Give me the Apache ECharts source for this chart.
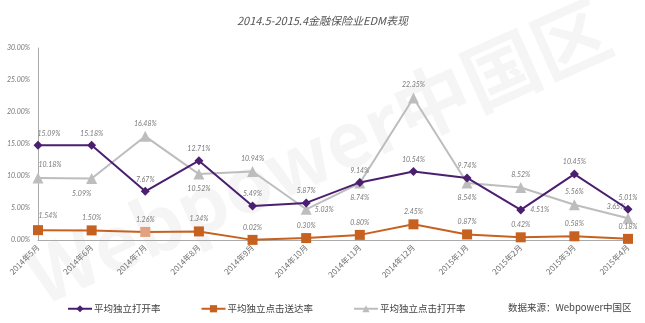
<!DOCTYPE html>
<html>
<head>
<meta charset="utf-8">
<script src="https://cdn.jsdelivr.net/npm/echarts@6/dist/echarts.min.js"></script>
<style>
html,body{margin:0;padding:0;background:#fff;}
#c{width:645px;height:323px;}
</style>
</head>
<body>
<div id="c"></div>
<script>
var categories = ['2014年5月','2014年6月','2014年7月','2014年8月','2014年9月','2014年10月','2014年11月','2014年12月','2015年1月','2015年2月','2015年3月','2015年4月'];
var openRate = [14.8, 14.8, 7.6, 12.4, 5.3, 5.8, 9.0, 10.7, 9.7, 4.7, 10.3, 4.8];
var openRateLabels = ['15.09%','15.18%','7.67%','12.71%','5.49%','5.87%','9.14%','10.54%','9.74%','4.51%','10.45%','5.01%'];
var clickDeliverRate = [1.54, 1.50, 1.26, 1.34, 0.02, 0.30, 0.80, 2.45, 0.87, 0.42, 0.58, 0.18];
var clickDeliverLabels = ['1.54%','1.50%','1.26%','1.34%','0.02%','0.30%','0.80%','2.45%','0.87%','0.42%','0.58%','0.18%'];
var clickOpenRate = [9.7, 9.6, 16.2, 10.3, 10.7, 4.8, 8.9, 22.2, 8.9, 8.2, 5.5, 3.4];
var clickOpenLabels = ['10.18%','5.09%','16.48%','10.52%','10.94%','5.03%','8.74%','22.35%','8.54%','8.52%','5.56%','3.65%'];
var seriesNames = ['平均独立打开率','平均独立点击送达率','平均独立点击打开率'];
var yTicks = [0, 5, 10, 15, 20, 25, 30];

var labelFont = {fontSize: 7, fontStyle: 'italic', color: '#7a7a7a', fontFamily: 'Lato, "Noto Sans", sans-serif'};

function buildData(values, labels, posFn) {
  return values.map(function (v, i) {
    var p = posFn(i);
    return {
      value: v,
      label: Object.assign({show: true, formatter: labels[i], position: p.pos, distance: p.dist || 4, offset: p.off || [0, 0]}, labelFont)
    };
  });
}

var purplePos = function (i) {
  if (i === 0) return {pos: 'top', off: [11, 0]};
  if (i === 9) return {pos: 'right', dist: 5};
  return {pos: 'top'};
};
var orangePos = function (i) {
  if (i === 0) return {pos: 'top', off: [10, -2]};
  return {pos: 'top'};
};
var grayPos = function (i) {
  var m = ['top','bottom','top','bottom','top','right','bottom','top','bottom','top','top','top'];
  if (i === 0) return {pos: 'top', off: [12, 0]};
  if (i === 1) return {pos: 'bottom', off: [-10, 2]};
  if (i === 5) return {pos: 'right', dist: 3};
  if (i === 11) return {pos: 'top', off: [-12, 2]};
  if (m[i] === 'bottom') return {pos: 'bottom', dist: 6};
  return {pos: m[i]};
};

var orangeData = buildData(clickDeliverRate, clickDeliverLabels, orangePos);
orangeData[2].itemStyle = {color: '#e3a27f'};

var chart = echarts.init(document.getElementById('c'));
chart.setOption({
  backgroundColor: '#ffffff',
  animation: false,
  title: {
    text: '2014.5-2015.4金融保险业EDM表现',
    left: 'center',
    top: 10,
    textStyle: {fontSize: 11, fontWeight: 'normal', fontStyle: 'italic', color: '#555', fontFamily: '"Noto Sans CJK SC", sans-serif'}
  },
  graphic: [{
    type: 'text',
    z: -10,
    silent: true,
    x: 318,
    y: 152,
    rotation: 0.42,
    style: {
      text: 'Webpower中国区',
      x: 0, y: 0,
      align: 'center',
      verticalAlign: 'middle',
      font: 'bold 76px "Noto Sans CJK SC", sans-serif',
      fill: 'rgba(0,0,0,0.04)'
    }
  }, {
    type: 'text',
    left: 508,
    top: 303,
    style: {text: '数据来源：Webpower中国区', font: '9.5px "Noto Sans CJK SC", sans-serif', fill: '#444'}
  }],
  legend: {
    left: 62,
    top: 299,
    itemGap: 40,
    itemWidth: 24,
    itemHeight: 9,
    textStyle: {fontSize: 9.5, color: '#444', fontFamily: '"Noto Sans CJK SC", sans-serif', padding: [0, 0, 0, -3]},
    data: seriesNames
  },
  grid: {left: 38, right: 17, top: 48, bottom: 83},
  xAxis: {
    type: 'category',
    data: categories,
    boundaryGap: false,
    axisLine: {lineStyle: {color: '#aaaaaa', width: 1}},
    axisTick: {show: false},
    axisLabel: {rotate: 45, fontSize: 8, color: '#6f6f6f', fontFamily: '"Noto Sans CJK SC", sans-serif', margin: 6, interval: 0}
  },
  yAxis: {
    type: 'value',
    min: yTicks[0],
    max: yTicks[yTicks.length - 1],
    interval: 5,
    axisLine: {show: true, lineStyle: {color: '#aaaaaa', width: 1}},
    axisTick: {show: false},
    splitLine: {show: false},
    axisLabel: {fontSize: 7, fontStyle: 'italic', color: '#777', margin: 8, fontFamily: 'Lato, sans-serif',
      formatter: function (v) { return v.toFixed(2) + '%'; }}
  },
  series: [{
    name: seriesNames[0],
    type: 'line',
    data: buildData(openRate, openRateLabels, purplePos),
    symbol: 'diamond',
    symbolSize: 9,
    itemStyle: {color: '#4b1f6f'},
    lineStyle: {color: '#4b1f6f', width: 2},
    z: 4
  }, {
    name: seriesNames[1],
    type: 'line',
    data: orangeData,
    symbol: 'rect',
    symbolSize: 10,
    itemStyle: {color: '#c7611f'},
    lineStyle: {color: '#c7611f', width: 2},
    z: 3
  }, {
    name: seriesNames[2],
    type: 'line',
    data: buildData(clickOpenRate, clickOpenLabels, grayPos),
    symbol: 'triangle',
    symbolSize: 11,
    itemStyle: {color: '#bdbdbd'},
    lineStyle: {color: '#bdbdbd', width: 2},
    z: 2
  }]
});
</script>
</body>
</html>
